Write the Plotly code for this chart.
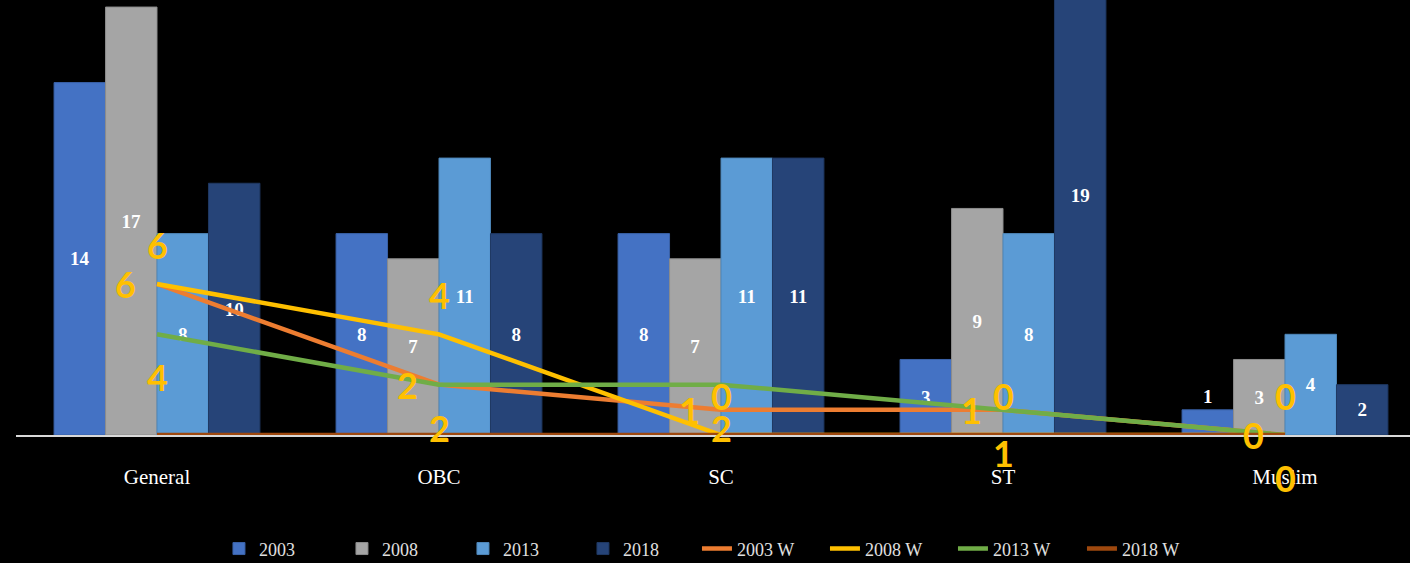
import plotly.graph_objects as go

categories = ["General", "OBC", "SC", "ST", "Muslim"]

bar_names = ["2003", "2008", "2013", "2018"]
v2003 = [14, 8, 8, 3, 1]
v2008 = [17, 7, 7, 9, 3]
v2013 = [8, 11, 11, 8, 4]
v2018 = [10, 8, 11, 19, 2]

line_names = ["2003 W", "2008 W", "2013 W", "2018 W"]
w2003 = [6, 2, 1, 1, 0]
w2008 = [6, 4, 0, 0, 0]
w2013 = [4, 2, 2, 1, 0]
w2018 = [0, 0, 0, 0, 0]

bar_colors = ["#4472C4", "#A5A5A5", "#5B9BD5", "#264478"]
bar_edges = ["#3A62A8", "#8C8C8C", "#4E86B8", "#1F3862"]
line_colors = ["#ED7D31", "#FFC000", "#70AD47", "#9E480E"]
bar_legend_widths = [78, 76, 75, 69]
line_legend_widths = [83, 83, 84, 80]

SERIF = "Liberation Serif"

fig = go.Figure()

for name, vals, col, edge, lw in zip(bar_names, [v2003, v2008, v2013, v2018],
                                     bar_colors, bar_edges, bar_legend_widths):
    fig.add_trace(go.Bar(
        x=categories, y=vals, name=name,
        marker=dict(color=col, line=dict(color=edge, width=1)),
        text=[str(v) for v in vals],
        textposition=["outside" if v < 2 else "inside" for v in vals],
        insidetextanchor="middle", textangle=0, constraintext="none",
        textfont=dict(family=SERIF, size=19, color="white", weight="bold"),
        outsidetextfont=dict(family=SERIF, size=19, color="white", weight="bold"),
        cliponaxis=True, legendwidth=lw,
    ))

line_data = [w2003, w2008, w2013, w2018]
for name, vals, col, lw in zip(line_names, line_data, line_colors, line_legend_widths):
    fig.add_trace(go.Scatter(
        x=categories, y=vals, name=name, mode="lines",
        line=dict(color=col, width=4.5), legendwidth=lw,
    ))

# data labels for the W lines (2003 W left, 2008 W above, 2013 W below)
label_shifts = [(-32, 0), (0, 39), (0, -43)]
annotations = []
for vals, (dx, dy) in zip(line_data[:3], label_shifts):
    for c, v in zip(categories, vals):
        annotations.append(dict(
            x=c, y=v, text=str(v), showarrow=False,
            xshift=dx, yshift=dy,
            font=dict(family="Lato", size=36, color="#FFC000", weight="bold"),
        ))

fig.update_layout(
    width=1410, height=563,
    paper_bgcolor="black", plot_bgcolor="black",
    margin=dict(l=16, r=0, t=0, b=128, autoexpand=False),
    barmode="group", bargap=0.27, bargroupgap=0,
    xaxis=dict(
        range=[-0.5, -0.5 + 1394 / 282], showline=True, linecolor="#D9D9D9",
        linewidth=2, showgrid=False, zeroline=False, ticks="",
        tickfont=dict(family=SERIF, size=21, color="white"),
        ticklabelstandoff=22,
    ),
    yaxis=dict(range=[0, 17.28], visible=False),
    legend=dict(
        orientation="h", x=0.1456, xanchor="left",
        yref="container", y=0.058, yanchor="top",
        font=dict(family=SERIF, size=18, color="#E0E0E0"),
        traceorder="normal", bgcolor="rgba(0,0,0,0)",
    ),
    annotations=annotations,
    showlegend=True,
)

fig.write_html("out.html")
